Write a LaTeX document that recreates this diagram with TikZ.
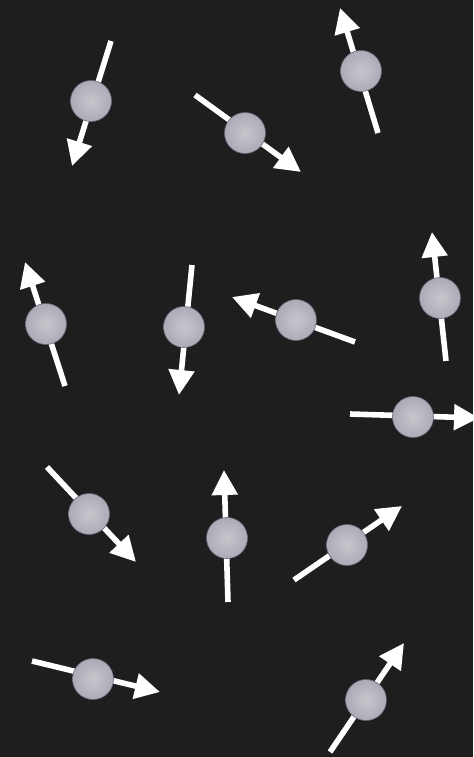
\documentclass[tikz,border=0pt]{standalone}
\usepackage{tikz}
\usetikzlibrary{arrows.meta}
\definecolor{bgdark}{HTML}{1E1E1E}
\definecolor{ballcore}{HTML}{C6C6CC}
\definecolor{ballmid}{HTML}{A6A6B2}
\definecolor{balledge}{HTML}{7E7E94}
\definecolor{ballrim}{HTML}{66667C}
\pgfdeclareradialshading{ballshade}{\pgfpoint{0bp}{0bp}}{color(0bp)=(ballcore); color(30bp)=(ballmid); color(50bp)=(balledge)}

\begin{document}
\begin{tikzpicture}[
    x=0.5mm, y=-0.5mm,
    spin/.style={draw=white, line width=2.8mm, -{Triangle[length=12.5mm, width=12.5mm]}},
    ball/.style={circle, minimum size=20.5mm, inner sep=0pt, shading=ballshade, draw=ballrim, line width=0.3mm}
  ]
  % background
  \fill[bgdark] (0,0) rectangle (473,757);
  \useasboundingbox (0,0) rectangle (473,757);

  % tails and heads of the spins
  \coordinate (t1) at (111,41);  \coordinate (h1) at (72,166);
  \coordinate (t2) at (195,95);  \coordinate (h2) at (301,172);
  \coordinate (t3) at (378,133); \coordinate (h3) at (340,8);
  \coordinate (t4) at (65,386);  \coordinate (h4) at (25,262);
  \coordinate (t5) at (192,265); \coordinate (h5) at (179,395);
  \coordinate (t6) at (355,342); \coordinate (h6) at (232,297);
  \coordinate (t7) at (446,361); \coordinate (h7) at (432,232);
  \coordinate (t8) at (350,414); \coordinate (h8) at (479,418);
  \coordinate (t9) at (47,467);  \coordinate (h9) at (136,562);
  \coordinate (t10) at (228,602); \coordinate (h10) at (224,470);
  \coordinate (t11) at (294,580); \coordinate (h11) at (402,506);
  \coordinate (t12) at (32,661);  \coordinate (h12) at (160,692);
  \coordinate (t13) at (330,752); \coordinate (h13) at (404,643);

  \draw[spin] (t1) -- (h1);
  \draw[spin] (t2) -- (h2);
  \draw[spin] (t3) -- (h3);
  \draw[spin] (t4) -- (h4);
  \draw[spin] (t5) -- (h5);
  \draw[spin] (t6) -- (h6);
  \draw[spin] (t7) -- (h7);
  \draw[spin] (t8) -- (h8);
  \draw[spin] (t9) -- (h9);
  \draw[spin] (t10) -- (h10);
  \draw[spin] (t11) -- (h11);
  \draw[spin] (t12) -- (h12);
  \draw[spin] (t13) -- (h13);

  % balls on top
  \node[ball] (b1) at (91,101) {};
  \node[ball] (b2) at (245,133) {};
  \node[ball] (b3) at (361,71) {};
  \node[ball] (b4) at (46,324) {};
  \node[ball] (b5) at (184,327) {};
  \node[ball] (b6) at (296,320) {};
  \node[ball] (b7) at (440,298) {};
  \node[ball] (b8) at (413,417) {};
  \node[ball] (b9) at (89,514) {};
  \node[ball] (b10) at (227,538) {};
  \node[ball] (b11) at (347,545) {};
  \node[ball] (b12) at (93,679) {};
  \node[ball] (b13) at (366,700) {};
\end{tikzpicture}
\end{document}
